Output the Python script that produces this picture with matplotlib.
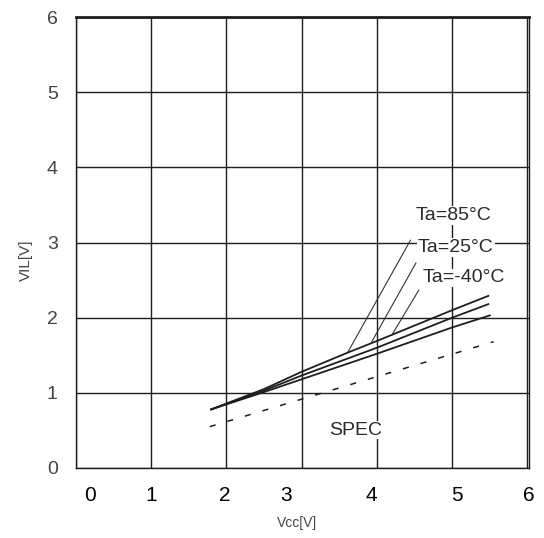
import numpy as np
import matplotlib
matplotlib.use('Agg')
import matplotlib.pyplot as plt

plt.rcParams['font.family'] = ['Liberation Sans', 'DejaVu Sans']

# VIL vs Vcc 데이터
vcc_m40 = [1.8, 2.5, 3.0, 3.6, 4.0, 5.0, 5.48]
vil_m40 = [0.78, 1.05, 1.28, 1.53, 1.69, 2.10, 2.29]
vcc_25 = [1.8, 2.5, 3.0, 4.0, 5.0, 5.48]
vil_25 = [0.78, 1.03, 1.23, 1.60, 2.00, 2.18]
vcc_85 = [1.8, 2.5, 3.0, 4.0, 5.0, 5.5]
vil_85 = [0.78, 1.01, 1.18, 1.52, 1.87, 2.03]
vcc_spec = [1.78, 5.55]
vil_spec = [0.55, 1.68]

labels = ['Ta=85°C', 'Ta=25°C', 'Ta=-40°C']
x_ticklabels = ['0', '1', '2', '3', '4', '5', '6']
x_label_pos = [0.19, 1.0, 1.98, 2.79, 3.92, 5.06, 6.02]  # 원본의 어긋난 눈금 글자 위치
y_ticks = [0, 1, 2, 3, 4, 5, 6]

ink = '#1e1e1e'

fig = plt.figure(figsize=(5.44, 5.38), dpi=100)
ax = fig.add_axes([75.7 / 544, 1 - 468 / 538, 453.3 / 544, 451 / 538])

# 측정 곡선
for vx, vy in [(vcc_85, vil_85), (vcc_25, vil_25), (vcc_m40, vil_m40)]:
    ax.plot(vx, vy, color=ink, lw=1.3, zorder=2)

# SPEC 점선
ax.plot(vcc_spec, vil_spec, color=ink, lw=1.1, dashes=(4, 8), zorder=2)

# 라벨과 지시선
label_xy = [(5.02, 3.36), (5.05, 2.93), (5.15, 2.53)]
leader_start = [(4.447, 3.032), (4.52, 2.73), (4.557, 2.367)]
leader_x = [3.61, 3.92, 4.20]
for txt, (lx, ly), (sx, sy), tx in zip(labels, label_xy, leader_start, leader_x):
    ty = np.interp(tx, vcc_m40, vil_m40)
    ax.annotate('', xy=(tx, ty), xytext=(sx, sy),
                arrowprops=dict(arrowstyle='-', lw=0.8, color='#333333',
                                shrinkA=0, shrinkB=0))
    ax.text(lx, ly, txt, ha='center', va='center', fontsize=14, color='#2a2a2a',
            bbox=dict(facecolor='white', edgecolor='none', pad=0.5), zorder=4)

ax.text(3.72, 0.505, 'SPEC', ha='center', va='center', fontsize=14, color='#2a2a2a',
        bbox=dict(facecolor='white', edgecolor='none', pad=0.5), zorder=4)

# 축 설정
ax.set_xlim(0, 6)
ax.set_ylim(0, 6)
ax.xaxis.remove_overlapping_locs = False
ax.set_xticks(range(7), minor=True)
ax.set_xticks(x_label_pos)
ax.set_xticklabels(x_ticklabels, fontsize=15, color='black')
ax.set_yticks(y_ticks)
ax.set_yticklabels([str(v) for v in y_ticks], fontsize=14, color='#444444')
ax.tick_params(axis='x', which='both', length=0, pad=13)
ax.tick_params(axis='y', length=0, pad=13)

ax.grid(True, axis='x', which='minor', color=ink, lw=1.0)
ax.grid(True, axis='y', which='major', color=ink, lw=1.0)
ax.grid(False, axis='x', which='major')

for side in ['left', 'right', 'bottom']:
    ax.spines[side].set_color(ink)
    ax.spines[side].set_linewidth(1.0)
ax.spines['top'].set_color(ink)
ax.spines['top'].set_linewidth(2.0)

ax.set_xlabel('Vcc[V]', fontsize=10, color='#444444')
ax.xaxis.set_label_coords(0.488, -0.106)
ax.set_ylabel('VIL[V]', fontsize=11, color='#444444')
ax.yaxis.set_label_coords(-0.094, 0.46)

fig.savefig('out.png', dpi=100)
